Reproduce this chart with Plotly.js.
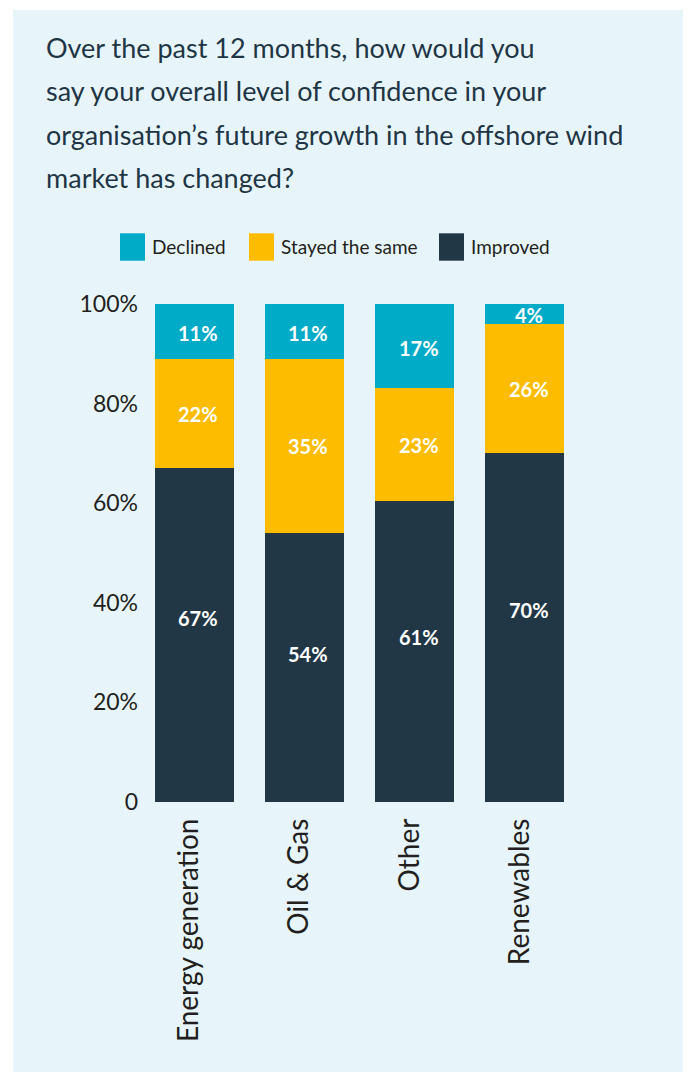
<!DOCTYPE html>
<html><head><meta charset="utf-8">
<script src="https://cdn.plot.ly/plotly-3.0.1.min.js"></script>
<style>
html,body{margin:0;padding:0;background:#ffffff;}
#chart{position:absolute;left:13px;top:10px;width:670px;height:1062px;}
</style></head><body><div id="chart"></div>
<script>
// ---- data ----
const categories = ['Energy generation', 'Oil & Gas', 'Other', 'Renewables'];
const declined   = [11, 11, 17, 4];
const stayedSame = [22, 35, 23, 26];
const improved   = [67, 54, 61, 70];
const seriesNames = ['Declined', 'Stayed the same', 'Improved'];
const yTickValues = [0, 20, 40, 60, 80, 100];
const yTickLabels = ['0', '20%', '40%', '60%', '80%', '100%'];
const titleLines = [
  'Over the past 12 months, how would you',
  'say your overall level of confidence in your',
  'organisation\u2019s future growth in the offshore wind',
  'market has changed?'
];

// ---- styles / geometry ----
const FONT = 'Lato, "Noto Sans", sans-serif';
const COLORS = {declined: '#00abc8', stayed: '#fdbc00', improved: '#213746'};
const OFFX = 13, OFFY = 10;            // div position on page
const W = 670, H = 1062;
const M = {l: 126, r: 103, t: 294, b: 270};
const PW = W - M.l - M.r, PH = H - M.t - M.b;
const px2x = px => (px - OFFX - M.l) / PW;
const py2y = py => (H - M.b - (py - OFFY)) / PH;

const stacks = [
  {name: seriesNames[2], vals: improved,   color: COLORS.improved, frac: 0.55},
  {name: seriesNames[1], vals: stayedSame, color: COLORS.stayed,   frac: 0.5},
  {name: seriesNames[0], vals: declined,   color: COLORS.declined, frac: 0.47}
];

const traces = stacks.map(s => ({
  type: 'bar', x: categories, y: s.vals, name: s.name,
  marker: {color: s.color, line: {width: 0}},
  hoverinfo: 'skip', showlegend: false
}));

// value labels (normalized like barnorm 'percent')
const totals = categories.map((c, i) => stacks.reduce((a, s) => a + s.vals[i], 0));
const annotations = [];
categories.forEach((c, i) => {
  let base = 0;
  stacks.forEach(s => {
    const v = s.vals[i] / totals[i] * 100;
    annotations.push({
      xref: 'x', yref: 'y', x: c, y: base + v * s.frac,
      text: s.vals[i] + '%', showarrow: false, xshift: 4,
      font: {family: FONT, size: 20, color: '#ffffff', weight: 700}
    });
    base += v;
  });
});

// title lines
const titleCenters = [47.5, 90.8, 134.1, 177.4];
titleLines.forEach((t, k) => {
  annotations.push({
    xref: 'paper', yref: 'paper', x: px2x(44), y: py2y(titleCenters[k]),
    xanchor: 'left', yanchor: 'middle', text: t, showarrow: false,
    font: {family: FONT, size: 27, color: '#1f3545'}
  });
});

// custom legend
const legendX = [120, 249, 439];
const legendOrder = [
  {name: seriesNames[0], color: COLORS.declined},
  {name: seriesNames[1], color: COLORS.stayed},
  {name: seriesNames[2], color: COLORS.improved}
];
const shapes = [];
legendOrder.forEach((it, k) => {
  shapes.push({
    type: 'rect', xref: 'paper', yref: 'paper',
    x0: px2x(legendX[k]), x1: px2x(legendX[k] + 25),
    y0: py2y(260.7), y1: py2y(233.3),
    fillcolor: it.color, line: {width: 0}
  });
  annotations.push({
    xref: 'paper', yref: 'paper', x: px2x(legendX[k] + 30), y: py2y(247),
    xanchor: 'left', yanchor: 'middle', text: it.name, showarrow: false,
    font: {family: FONT, size: 19, color: '#231f20'}
  });
});

const layout = {
  width: W, height: H,
  margin: M,
  paper_bgcolor: '#e7f5fa', plot_bgcolor: 'rgba(0,0,0,0)',
  barmode: 'stack', barnorm: 'percent', bargap: 0.284,
  showlegend: false,
  font: {family: FONT, color: '#231f20'},
  xaxis: {
    type: 'category', range: [-0.5, 3.5], tickangle: -90,
    tickfont: {family: FONT, size: 28, color: '#231f20'},
    ticklabelstandoff: 10, ticklabelshift: -5,
    showgrid: false, zeroline: false, showline: false, ticks: '',
    fixedrange: true
  },
  yaxis: {
    range: [0, 100], tickvals: yTickValues, ticktext: yTickLabels,
    tickfont: {family: FONT, size: 23, color: '#231f20'},
    showgrid: false, zeroline: false, showline: false, ticks: '',
    fixedrange: true
  },
  annotations: annotations,
  shapes: shapes
};

Plotly.newPlot('chart', traces, layout, {displayModeBar: false, staticPlot: true});
</script></body></html>
